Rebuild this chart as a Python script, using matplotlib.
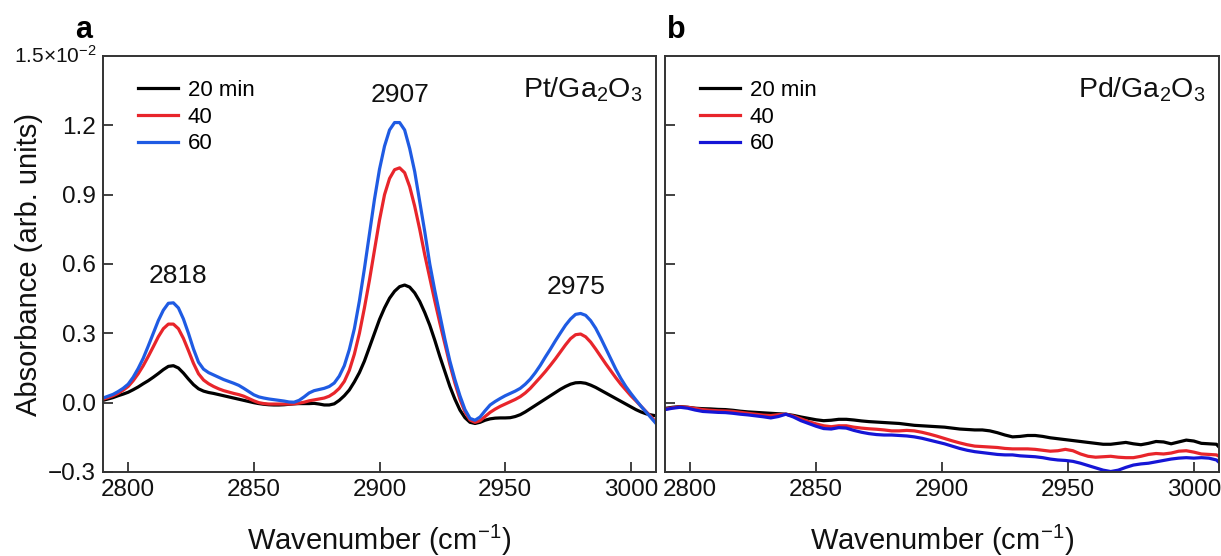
import numpy as np
import matplotlib
matplotlib.use("Agg")
import matplotlib.pyplot as plt

plt.rcParams['font.family'] = ['Liberation Sans', 'DejaVu Sans']
plt.rcParams['mathtext.fontset'] = 'custom'
plt.rcParams['mathtext.rm'] = 'Liberation Sans'
plt.rcParams['mathtext.it'] = 'Liberation Sans:italic'
plt.rcParams['mathtext.bf'] = 'Liberation Sans:bold'

# ---------------- data ----------------
wn_a = list(range(2790, 3011, 2))

pt_20 = [0.010, 0.016, 0.022, 0.030, 0.037, 0.045, 0.056, 0.068, 0.082, 0.095,
         0.110, 0.126, 0.143, 0.157, 0.160, 0.150, 0.128, 0.102, 0.078, 0.060,
         0.050, 0.044, 0.040, 0.035, 0.030, 0.025, 0.020, 0.015, 0.010, 0.005,
         0.000, -0.004, -0.007, -0.009, -0.010, -0.010, -0.009, -0.007, -0.005, -0.004,
         -0.004, -0.004, -0.003, -0.006, -0.010, -0.010, -0.005, 0.010, 0.030, 0.055,
         0.090, 0.130, 0.180, 0.240, 0.300, 0.360, 0.410, 0.452, 0.482, 0.502,
         0.509, 0.500, 0.475, 0.438, 0.390, 0.335, 0.270, 0.200, 0.135, 0.070,
         0.015, -0.032, -0.065, -0.085, -0.090, -0.085, -0.076, -0.070, -0.067, -0.066,
         -0.066, -0.065, -0.060, -0.052, -0.040, -0.026, -0.012, 0.002, 0.016, 0.030,
         0.044, 0.058, 0.070, 0.080, 0.086, 0.087, 0.084, 0.076, 0.066, 0.054,
         0.042, 0.030, 0.018, 0.006, -0.006, -0.018, -0.030, -0.040, -0.048, -0.053,
         -0.057]

pt_40 = [0.015, 0.022, 0.030, 0.040, 0.054, 0.070, 0.095, 0.125, 0.160, 0.200,
         0.242, 0.285, 0.320, 0.340, 0.340, 0.320, 0.278, 0.225, 0.170, 0.125,
         0.098, 0.082, 0.070, 0.060, 0.052, 0.046, 0.040, 0.035, 0.028, 0.018,
         0.008, 0.000, -0.004, -0.006, -0.006, -0.006, -0.006, -0.006, -0.005, -0.002,
         0.002, 0.008, 0.012, 0.016, 0.020, 0.028, 0.042, 0.062, 0.092, 0.140,
         0.210, 0.300, 0.410, 0.530, 0.660, 0.790, 0.900, 0.970, 1.008, 1.016,
         0.995, 0.935, 0.850, 0.750, 0.640, 0.540, 0.440, 0.345, 0.255, 0.165,
         0.085, 0.015, -0.040, -0.075, -0.085, -0.078, -0.060, -0.042, -0.028, -0.016,
         -0.006, 0.004, 0.014, 0.026, 0.042, 0.062, 0.086, 0.110, 0.135, 0.162,
         0.190, 0.220, 0.250, 0.277, 0.294, 0.297, 0.285, 0.262, 0.232, 0.200,
         0.168, 0.138, 0.108, 0.080, 0.055, 0.030, 0.008, -0.015, -0.038, -0.060,
         -0.085]

pt_60 = [0.020, 0.028, 0.036, 0.048, 0.062, 0.080, 0.110, 0.148, 0.192, 0.245,
         0.300, 0.355, 0.400, 0.430, 0.432, 0.410, 0.362, 0.300, 0.232, 0.175,
         0.145, 0.130, 0.120, 0.110, 0.100, 0.092, 0.084, 0.075, 0.062, 0.048,
         0.034, 0.025, 0.020, 0.016, 0.013, 0.010, 0.007, 0.003, 0.002, 0.010,
         0.025, 0.042, 0.052, 0.057, 0.062, 0.070, 0.085, 0.115, 0.160, 0.230,
         0.320, 0.440, 0.580, 0.730, 0.880, 1.010, 1.110, 1.180, 1.212, 1.212,
         1.180, 1.100, 1.000, 0.870, 0.740, 0.600, 0.485, 0.380, 0.275, 0.180,
         0.100, 0.030, -0.030, -0.068, -0.076, -0.062, -0.035, -0.010, 0.005, 0.018,
         0.030, 0.040, 0.050, 0.062, 0.080, 0.102, 0.130, 0.162, 0.198, 0.232,
         0.268, 0.302, 0.335, 0.362, 0.382, 0.386, 0.378, 0.355, 0.322, 0.280,
         0.235, 0.190, 0.145, 0.105, 0.070, 0.040, 0.012, -0.015, -0.040, -0.065,
         -0.090]

wn_b = list(range(2790, 3010, 3)) + [3010]

pd_20 = [-0.025, -0.020, -0.017, -0.020, -0.024, -0.026, -0.027, -0.029, -0.030, -0.033,
         -0.037, -0.040, -0.042, -0.044, -0.046, -0.048, -0.050, -0.055, -0.062, -0.068,
         -0.074, -0.078, -0.076, -0.072, -0.072, -0.075, -0.079, -0.082, -0.084, -0.086,
         -0.088, -0.090, -0.094, -0.098, -0.100, -0.102, -0.104, -0.106, -0.110, -0.114,
         -0.116, -0.118, -0.118, -0.122, -0.130, -0.140, -0.148, -0.146, -0.142, -0.142,
         -0.146, -0.152, -0.156, -0.160, -0.164, -0.168, -0.172, -0.176, -0.180, -0.180,
         -0.176, -0.172, -0.178, -0.182, -0.176, -0.168, -0.170, -0.178, -0.170, -0.162,
         -0.166, -0.176, -0.178, -0.180, -0.192]

pd_40 = [-0.028, -0.022, -0.018, -0.020, -0.025, -0.030, -0.033, -0.035, -0.036, -0.038,
         -0.042, -0.046, -0.050, -0.054, -0.056, -0.052, -0.050, -0.058, -0.070, -0.082,
         -0.092, -0.100, -0.104, -0.100, -0.100, -0.106, -0.110, -0.113, -0.115, -0.118,
         -0.122, -0.122, -0.120, -0.122, -0.128, -0.136, -0.145, -0.155, -0.165, -0.174,
         -0.182, -0.188, -0.190, -0.192, -0.194, -0.198, -0.200, -0.200, -0.200, -0.202,
         -0.206, -0.210, -0.208, -0.202, -0.208, -0.222, -0.232, -0.236, -0.234, -0.232,
         -0.236, -0.238, -0.238, -0.232, -0.224, -0.220, -0.222, -0.218, -0.210, -0.208,
         -0.214, -0.222, -0.224, -0.226, -0.232]

pd_60 = [-0.030, -0.024, -0.020, -0.024, -0.032, -0.038, -0.040, -0.042, -0.043, -0.046,
         -0.050, -0.053, -0.057, -0.061, -0.066, -0.060, -0.050, -0.062, -0.078, -0.090,
         -0.102, -0.112, -0.114, -0.108, -0.110, -0.120, -0.128, -0.134, -0.138, -0.140,
         -0.140, -0.142, -0.144, -0.148, -0.154, -0.162, -0.170, -0.178, -0.188, -0.198,
         -0.206, -0.212, -0.216, -0.220, -0.224, -0.226, -0.226, -0.230, -0.232, -0.234,
         -0.238, -0.244, -0.248, -0.250, -0.254, -0.262, -0.272, -0.282, -0.292, -0.298,
         -0.292, -0.280, -0.270, -0.265, -0.262, -0.256, -0.250, -0.244, -0.240, -0.238,
         -0.240, -0.238, -0.240, -0.248, -0.258]

series_labels = ["20 min", "40", "60"]
peak_labels = ["2818", "2907", "2975"]
peak_pos = [(2820, 0.55), (2908, 1.33), (2978, 0.50)]
x_ticks = [2800, 2850, 2900, 2950, 3000]
y_ticks = [-0.3, 0.0, 0.3, 0.6, 0.9, 1.2]
y_ticklabels = ["\u22120.3", "0.0", "0.3", "0.6", "0.9", "1.2"]
y_top = 1.5
y_top_label = "1.5\u00d710$^{-2}$"

# ---------------- figure ----------------
W, H = 1221, 556
fig = plt.figure(figsize=(W / 100, H / 100), dpi=100)

def box(l, r, t, b):
    return [l / W, 1 - b / H, (r - l) / W, (b - t) / H]

ax_a = fig.add_axes(box(103, 656, 56, 472))
ax_b = fig.add_axes(box(665, 1219, 56, 472))

cols_a = ["#000000", "#e8252b", "#1f5be3"]
cols_b = ["#000000", "#e8252b", "#1515d6"]

for vals, c, lab in zip([pt_20, pt_40, pt_60], cols_a, series_labels):
    ax_a.plot(wn_a, vals, color=c, lw=2.3, label=lab, solid_joinstyle='round')
for vals, c, lab in zip([pd_20, pd_40, pd_60], cols_b, series_labels):
    ax_b.plot(wn_b, vals, color=c, lw=2.3, label=lab, solid_joinstyle='round')

for ax in (ax_a, ax_b):
    ax.set_xlim(2790, 3010)
    ax.set_ylim(-0.3, y_top)
    ax.set_xticks(x_ticks)
    ax.set_yticks(y_ticks)
    ax.tick_params(direction='in', length=7, width=1.3, labelsize=17.5,
                   colors='#333333', labelcolor='#111111', pad=5)
    for s in ax.spines.values():
        s.set_color('#333333')
        s.set_linewidth(1.4)
    ax.set_xlabel("Wavenumber (cm$^{-1}$)", fontsize=21, color='#111111', labelpad=16)
    leg = ax.legend(loc='upper left', bbox_to_anchor=(0.035, 0.98), frameon=False,
                    fontsize=16, handlelength=1.8, handletextpad=0.45,
                    labelspacing=0.26, borderpad=0.2)

ax_a.set_yticklabels(y_ticklabels)
ax_b.set_yticklabels([])
ax_a.text(-0.012, y_top, y_top_label, transform=ax_a.get_yaxis_transform(),
          ha='right', va='center', fontsize=15, color='#111111')
ax_a.set_ylabel("Absorbance (arb. units)", fontsize=21, color='#111111')
ax_a.yaxis.set_label_coords((43 - 103) / 553, 0.5)

for lab, (x, y) in zip(peak_labels, peak_pos):
    ax_a.text(x, y, lab, fontsize=19, ha='center', va='center', color='#111111')

ax_a.text(0.975, 0.92, "Pt/Ga$_2$O$_3$", transform=ax_a.transAxes, ha='right',
          va='center', fontsize=20.5, color='#111111')
ax_b.text(0.975, 0.92, "Pd/Ga$_2$O$_3$", transform=ax_b.transAxes, ha='right',
          va='center', fontsize=20.5, color='#111111')

fig.text(84 / W, 1 - 30 / H, "a", fontsize=22, fontweight='bold', ha='center', va='center')
fig.text(676 / W, 1 - 30 / H, "b", fontsize=22, fontweight='bold', ha='center', va='center')

fig.savefig("out.png", dpi=100)
